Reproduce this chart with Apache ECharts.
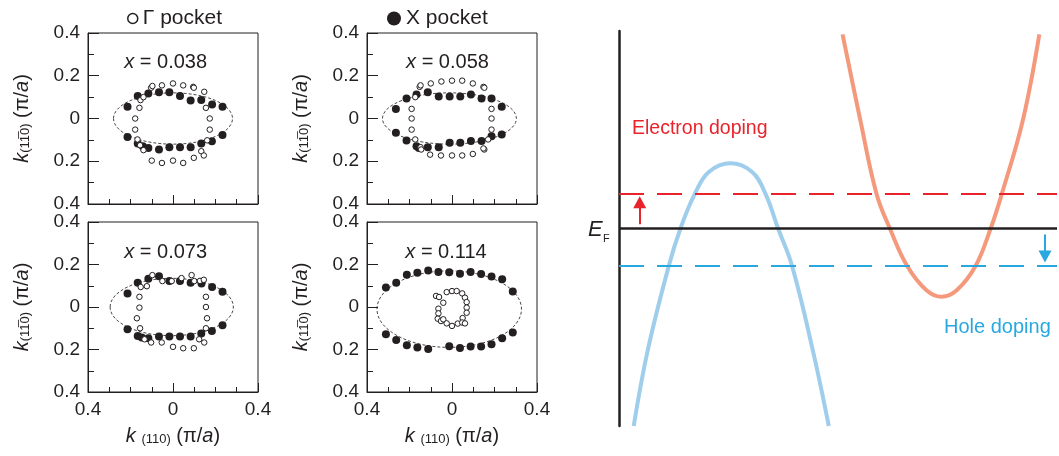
<!DOCTYPE html>
<html>
<head>
<meta charset="utf-8">
<title>Fermi pockets and doping</title>
<script src="https://cdn.jsdelivr.net/npm/echarts@6/dist/echarts.min.js"></script>
<style>
  html, body { margin: 0; padding: 0; background: #fff; }
  #chart { width: 1059px; height: 456px; }
</style>
</head>
<body>
<div id="chart"></div>
<script>
// Fermi surface points, [k(110), k(1-10)] in pi/a
const open038 = [
  [-0.178, 0.0], [-0.178, -0.052], [-0.158, 0.05], [-0.153, 0.086], [-0.139, 0.1],
  [-0.103, 0.144], [-0.097, 0.152], [-0.052, 0.155], [0.0, 0.164], [0.048, 0.155],
  [0.095, 0.148], [0.098, 0.144], [0.147, 0.125], [0.155, 0.05], [0.173, 0.0],
  [0.173, -0.052], [-0.167, -0.098], [-0.155, -0.125], [-0.139, -0.148], [-0.1, -0.197],
  [-0.052, -0.208], [0.0, -0.197], [0.048, -0.208], [0.098, -0.184], [0.133, -0.153],
  [0.145, -0.173], [0.161, -0.102]
];
const filled038 = [
  [-0.214, 0.055], [-0.166, 0.105], [-0.116, 0.117], [-0.066, 0.123], [-0.017, 0.123],
  [0.033, 0.105], [0.083, 0.084], [0.133, 0.086], [0.184, 0.066], [0.233, 0.055],
  [-0.214, -0.086], [-0.166, -0.117], [-0.142, -0.13], [-0.116, -0.138], [-0.066, -0.145],
  [-0.017, -0.134], [0.033, -0.134], [0.083, -0.134], [0.133, -0.117], [0.183, -0.106],
  [0.233, -0.077]
];
const open058 = [
  [-0.152, 0.148], [-0.148, 0.155], [-0.1, 0.164], [-0.05, 0.173], [0.0, 0.177],
  [0.048, 0.177], [0.098, 0.164], [0.148, 0.148], [0.152, 0.144],
  [-0.19, 0.045], [-0.19, 0.0], [-0.19, -0.052], [-0.173, 0.1], [-0.173, -0.098],
  [0.186, 0.045], [0.186, 0.0], [0.186, -0.052], [0.17, -0.098],
  [-0.148, -0.134], [-0.145, -0.145], [-0.103, -0.169], [-0.052, -0.173], [0.0, -0.173],
  [0.048, -0.173], [0.098, -0.166], [0.152, -0.145], [0.148, -0.14]
];
const filled058 = [
  [-0.264, 0.045], [-0.214, 0.094], [-0.167, 0.1125], [-0.114, 0.123], [-0.0625, 0.103],
  [-0.011, 0.103], [0.039, 0.103], [0.089, 0.1125], [0.139, 0.094], [0.186, 0.094],
  [0.234, 0.055],
  [-0.264, -0.067], [-0.214, -0.103], [-0.167, -0.13], [-0.156, -0.138], [-0.114, -0.134],
  [-0.0625, -0.134], [-0.011, -0.114], [0.039, -0.114], [0.089, -0.105], [0.139, -0.105],
  [0.186, -0.083], [0.234, -0.075]
];
const open073 = [
  [-0.152, 0.094], [-0.123, 0.098], [-0.097, 0.15], [-0.05, 0.122], [-0.006, 0.122],
  [0.04, 0.136], [0.0875, 0.15], [0.1, 0.122], [0.127, 0.123], [0.145, 0.128],
  [-0.158, 0.048], [-0.158, -0.003], [-0.17, -0.053], [-0.155, -0.1],
  [0.155, 0.048], [0.155, 0.0], [0.16, -0.053], [0.155, -0.1],
  [-0.134, -0.152], [-0.103, -0.167], [-0.053, -0.167], [0.0, -0.1875], [0.048, -0.194],
  [0.098, -0.194], [0.123, -0.152], [0.147, -0.167]
];
const filled073 = [
  [-0.214, 0.064], [-0.166, 0.114], [-0.116, 0.133], [-0.066, 0.145], [-0.017, 0.122],
  [0.033, 0.122], [0.083, 0.114], [0.134, 0.111], [0.184, 0.094], [0.233, 0.072],
  [-0.214, -0.105], [-0.166, -0.136], [-0.147, -0.144], [-0.116, -0.147], [-0.066, -0.139],
  [-0.017, -0.139], [0.033, -0.139], [0.083, -0.139], [0.133, -0.125], [0.183, -0.1125],
  [0.233, -0.086]
];
const open114 = [
  [-0.075, 0.052], [-0.061, 0.047], [-0.041, 0.02], [-0.025, 0.07], [0.0, 0.075],
  [0.022, 0.075], [0.048, 0.064], [0.061, 0.044], [0.069, 0.023], [0.069, -0.003],
  [0.069, -0.027], [0.05, -0.052], [-0.064, -0.008], [-0.064, -0.03], [-0.067, -0.055],
  [-0.052, -0.066], [-0.041, -0.058], [-0.025, -0.077], [0.0, -0.089], [0.027, -0.078],
  [0.048, -0.073], [0.061, -0.077]
];
const filled114 = [
  [-0.311, 0.092], [-0.2625, 0.114], [-0.2125, 0.152], [-0.163, 0.161], [-0.112, 0.172],
  [-0.064, 0.165], [-0.013, 0.163], [0.0375, 0.157], [0.0875, 0.165], [0.137, 0.155],
  [0.186, 0.143], [0.236, 0.131], [0.286, 0.073],
  [-0.311, -0.128], [-0.2625, -0.155], [-0.2125, -0.18], [-0.163, -0.19], [-0.112, -0.198],
  [-0.013, -0.185], [0.0375, -0.193], [0.0875, -0.186], [0.137, -0.186], [0.186, -0.175],
  [0.236, -0.147], [0.286, -0.12]
];
// dashed guide ellipses: [centre k110, centre k1-10, half width, half height]
const ell038 = [0.0, 0.0, 0.28, 0.12];
const ell058 = [-0.012, 0.0, 0.315, 0.12];
const ell073 = [-0.006, 0.0, 0.29, 0.135];
const ell114 = [-0.013, -0.01, 0.34, 0.18];
const dopingLabels = ['x = 0.038', 'x = 0.058', 'x = 0.073', 'x = 0.114'];

const kTickValues = [-0.4, -0.2, 0, 0.2, 0.4];
const kTickLabels = ['0.4', '0.2', '0', '0.2', '0.4'];

// band sketch: k (arbitrary, 0..100) and E relative to E_F (arbitrary, -1..1)
const holeBandK = [3.36, 6.56, 11.36, 14.03, 17.3, 20.5, 25.45, 30.4, 33.45, 36.33, 39.52, 44.25, 47.9];
const holeBandE = [-1.0, -0.617, -0.19, 0, 0.175, 0.286, 0.33, 0.286, 0.175, 0, -0.19, -0.617, -1.0];
const elecBandK = [51.04, 55.1, 58.8, 61.85, 65.8, 70.2, 73.66, 77.1, 81.4, 84.85, 87.4, 92.2, 95.96];
const elecBandE = [0.983, 0.548, 0.175, 0, -0.19, -0.313, -0.346, -0.313, -0.19, 0, 0.175, 0.548, 0.983];
const levelEF = 0;
const levelElectron = 0.175;
const levelHole = -0.19;

const FONT = "'Liberation Sans', Arial, sans-serif";
const ink = '#231f20';
const red = '#e8232b';
const blue = '#29a8e0';

const chart = echarts.init(document.getElementById('chart'));

const panelGrids = [
  { left: 88, top: 33, width: 170, height: 171 },
  { left: 367, top: 33, width: 170, height: 171 },
  { left: 88, top: 222, width: 170, height: 170 },
  { left: 367, top: 222, width: 170, height: 170 }
];
const panels = [
  { open: open038, filled: filled038, ell: ell038 },
  { open: open058, filled: filled058, ell: ell058 },
  { open: open073, filled: filled073, ell: ell073 },
  { open: open114, filled: filled114, ell: ell114 }
];

function tickText(v) {
  const i = kTickValues.indexOf(Math.round(v * 10) / 10);
  return i < 0 ? '' : kTickLabels[i];
}

const nameStyle = {
  color: ink,
  fontFamily: FONT,
  fontSize: 20,
  rich: {
    k: { fontStyle: 'italic', fontSize: 20, fontFamily: FONT, color: ink },
    s: { fontSize: 13, fontFamily: FONT, color: ink, padding: [7, 0, 0, 0] },
    a: { fontStyle: 'italic', fontSize: 20, fontFamily: FONT, color: ink }
  }
};

const xAxes = [];
const yAxes = [];
const series = [];

panels.forEach((p, i) => {
  xAxes.push({
    gridIndex: i,
    type: 'value',
    min: -0.4,
    max: 0.4,
    interval: 0.4,
    axisLine: { onZero: false, lineStyle: { color: ink, width: 1 } },
    axisTick: { inside: true, length: 9, lineStyle: { color: ink } },
    minorTick: { show: true, splitNumber: 4, length: 5, lineStyle: { color: ink } },
    splitLine: { show: false },
    axisLabel: {
      show: i >= 2, formatter: tickText, margin: 8,
      fontSize: 19, color: ink, fontFamily: FONT,
      showMinLabel: true, showMaxLabel: true
    },
    name: i >= 2 ? '{k|k} {s|(110)} (π/{a|a})' : '',
    nameLocation: 'middle',
    nameGap: 34,
    nameTextStyle: nameStyle
  });
  yAxes.push({
    gridIndex: i,
    type: 'value',
    min: -0.4,
    max: 0.4,
    interval: 0.2,
    axisLine: { onZero: false, lineStyle: { color: ink, width: 1 } },
    axisTick: { inside: true, length: 11, lineStyle: { color: ink } },
    minorTick: { show: true, splitNumber: 2, length: 6, lineStyle: { color: ink } },
    splitLine: { show: false },
    axisLabel: {
      formatter: tickText, margin: 8,
      fontSize: 19, color: ink, fontFamily: FONT,
      showMinLabel: true, showMaxLabel: true
    },
    name: '{k|k}{s|(11\u03050)} (π/{a|a})',
    nameLocation: 'middle',
    nameRotate: 90,
    nameGap: 56,
    nameTextStyle: nameStyle
  });

  series.push({
    type: 'custom',
    xAxisIndex: i,
    yAxisIndex: i,
    silent: true,
    data: [p.ell],
    renderItem: function (params, api) {
      const c = api.coord([api.value(0), api.value(1)]);
      const s = api.size([api.value(2), api.value(3)]);
      return {
        type: 'ellipse',
        shape: { cx: c[0], cy: c[1], rx: s[0], ry: s[1] },
        style: { fill: 'none', stroke: '#333', lineWidth: 0.9, lineDash: [3, 2] }
      };
    }
  });
  series.push({
    name: 'X pocket',
    type: 'scatter',
    xAxisIndex: i,
    yAxisIndex: i,
    data: p.filled,
    symbol: 'circle',
    symbolSize: 8,
    itemStyle: { color: ink, opacity: 1 }
  });
  series.push({
    name: 'Γ pocket',
    type: 'scatter',
    xAxisIndex: i,
    yAxisIndex: i,
    data: p.open,
    symbol: 'circle',
    symbolSize: 5.5,
    itemStyle: { color: '#fff', borderColor: ink, borderWidth: 1, opacity: 1 }
  });
});

// band sketch panel
xAxes.push({ gridIndex: 4, type: 'value', min: 0, max: 100, show: false });
yAxes.push({
  gridIndex: 4,
  type: 'value',
  min: -1,
  max: 1,
  axisLine: { show: true, onZero: false, lineStyle: { color: ink, width: 2.5 } },
  axisTick: { show: false },
  axisLabel: { show: false },
  splitLine: { show: false }
});

function zip(a, b) {
  return a.map((v, i) => [v, b[i]]);
}

series.push({
  type: 'line', xAxisIndex: 4, yAxisIndex: 4, silent: true,
  data: zip(holeBandK, holeBandE), smooth: 0.4, showSymbol: false,
  lineStyle: { color: '#9fcdec', width: 4 }
});
series.push({
  type: 'line', xAxisIndex: 4, yAxisIndex: 4, silent: true,
  data: zip(elecBandK, elecBandE), smooth: 0.4, showSymbol: false,
  lineStyle: { color: '#f5997c', width: 4 }
});
series.push({
  type: 'line', xAxisIndex: 4, yAxisIndex: 4, silent: true,
  data: [[0, levelElectron], [100, levelElectron]], showSymbol: false,
  lineStyle: { color: red, width: 2, type: [25, 13] }
});
series.push({
  type: 'line', xAxisIndex: 4, yAxisIndex: 4, silent: true,
  data: [[0, levelHole], [100, levelHole]], showSymbol: false,
  lineStyle: { color: blue, width: 2, type: [25, 13] }
});
series.push({
  type: 'line', xAxisIndex: 4, yAxisIndex: 4, silent: true,
  data: [[0, levelEF], [100, levelEF]], showSymbol: false,
  lineStyle: { color: ink, width: 2.5 },
  markLine: {
    silent: true,
    symbol: ['none', 'triangle'],
    symbolSize: [13, 12],
    label: { show: false },
    data: [
      [
        { coord: [4.73, 0.021], lineStyle: { color: red, width: 2, type: 'solid' }, itemStyle: { color: red } },
        { coord: [4.73, 0.133] }
      ],
      [
        { coord: [97.26, -0.031], lineStyle: { color: blue, width: 2, type: 'solid' }, itemStyle: { color: blue } },
        { coord: [97.26, -0.142] }
      ]
    ]
  }
});

const graphics = [];
const labelPos = [[165.7, 62.7], [447.5, 62.7], [165.7, 252.5], [446, 252.5]];
dopingLabels.forEach((t, i) => {
  graphics.push({
    type: 'text',
    x: labelPos[i][0],
    y: labelPos[i][1],
    style: {
      text: '{i|x}' + t.slice(1),
      fill: ink,
      fontSize: 20,
      fontFamily: FONT,
      align: 'center',
      verticalAlign: 'middle',
      rich: { i: { fontStyle: 'italic', fontSize: 20, fontFamily: FONT, fill: ink } }
    }
  });
});
graphics.push(
  {
    type: 'text', x: 632, y: 129,
    style: { text: 'Electron doping', fill: red, fontSize: 19.5, fontFamily: FONT, verticalAlign: 'middle' }
  },
  {
    type: 'text', x: 944, y: 327,
    style: { text: 'Hole doping', fill: blue, fontSize: 20, fontFamily: FONT, verticalAlign: 'middle' }
  },
  {
    type: 'text', x: 588, y: 230,
    style: { text: 'E', fill: ink, fontSize: 22, fontStyle: 'italic', fontFamily: FONT, verticalAlign: 'middle' }
  },
  {
    type: 'text', x: 603, y: 239,
    style: { text: 'F', fill: ink, fontSize: 11, fontFamily: FONT, verticalAlign: 'middle' }
  }
);

const option = {
  animation: false,
  backgroundColor: '#fff',
  grid: panelGrids.map(g => Object.assign({ show: true, borderColor: ink, borderWidth: 1, containLabel: false }, g))
    .concat([{ left: 619, top: 31, width: 438, height: 395 }]),
  legend: [
    {
      data: ['Γ pocket'], left: 122, top: 3, itemWidth: 10, itemHeight: 10,
      selectedMode: false, itemStyle: { borderWidth: 1.5 },
      textStyle: { fontSize: 21, color: ink, fontFamily: FONT }
    },
    {
      data: ['X pocket'], left: 382, top: 3, itemWidth: 14, itemHeight: 14,
      selectedMode: false,
      textStyle: { fontSize: 21, color: ink, fontFamily: FONT }
    }
  ],
  xAxis: xAxes,
  yAxis: yAxes,
  series: series,
  graphic: graphics
};

chart.setOption(option);
</script>
</body>
</html>
